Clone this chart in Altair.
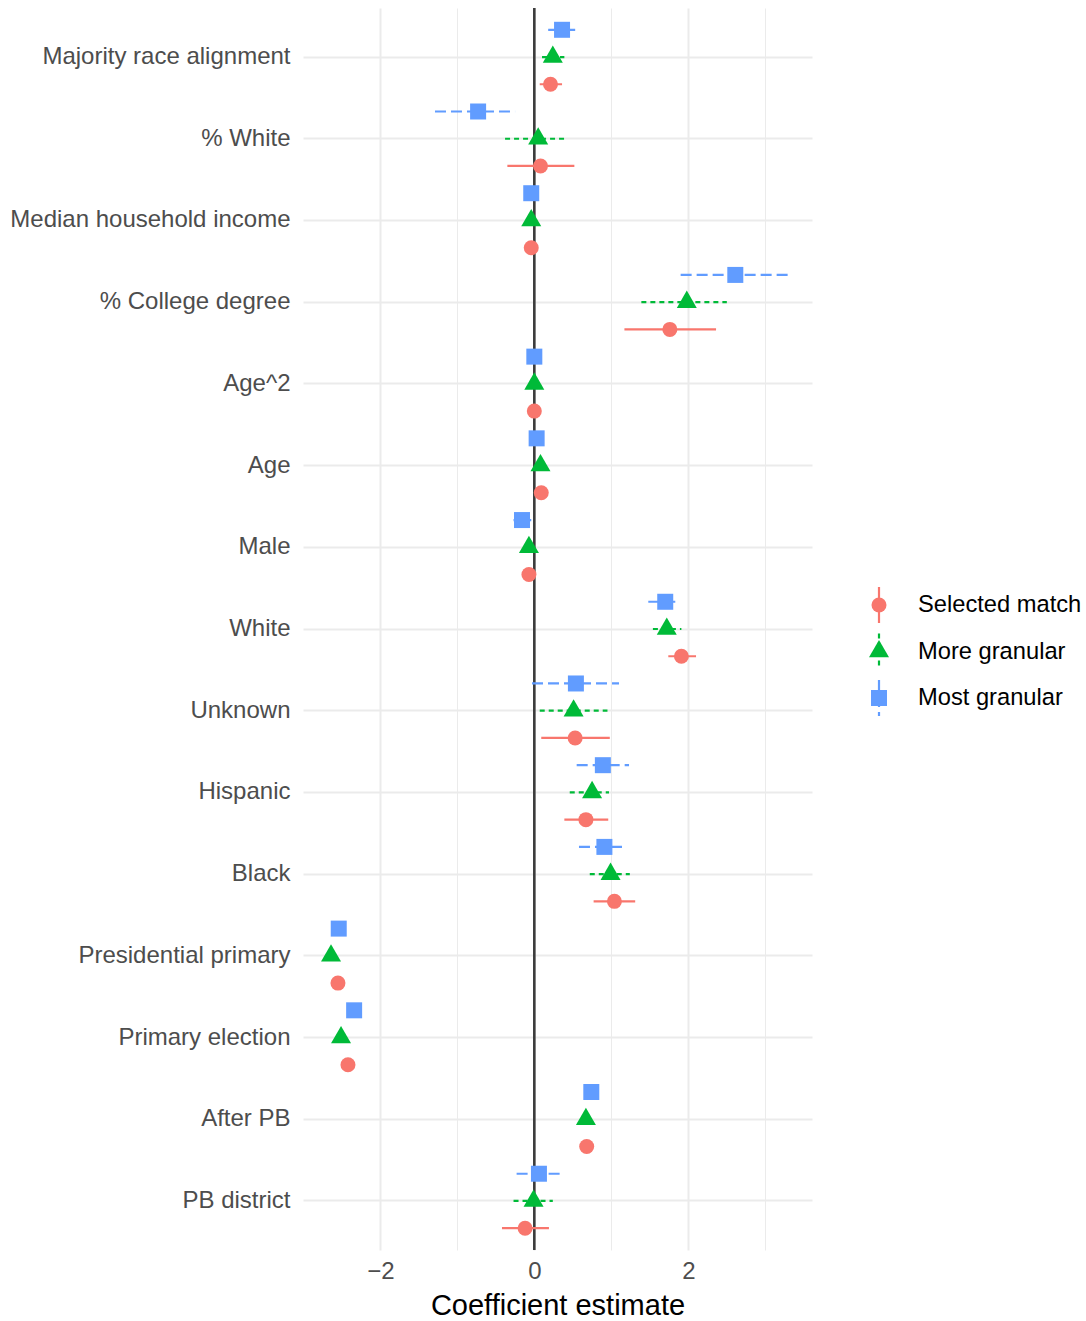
import altair as alt
import pandas as pd

# Regression terms, top to bottom
terms = [
    "Majority race alignment", "% White", "Median household income",
    "% College degree", "Age^2", "Age", "Male", "White", "Unknown",
    "Hispanic", "Black", "Presidential primary", "Primary election",
    "After PB", "PB district",
]

models = ["Selected match", "More granular", "Most granular"]

# Point estimates and interval bounds per model
est_selected = [0.21, 0.08, -0.04, 1.76, 0.00, 0.09, -0.07, 1.91, 0.53, 0.67, 1.04, -2.55, -2.42, 0.68, -0.12]
low_selected = [0.07, -0.35, -0.06, 1.17, -0.01, 0.06, -0.10, 1.74, 0.09, 0.39, 0.77, -2.60, -2.48, 0.64, -0.42]
high_selected = [0.36, 0.52, -0.02, 2.36, 0.01, 0.12, -0.04, 2.10, 0.98, 0.96, 1.31, -2.50, -2.36, 0.72, 0.19]

est_more = [0.24, 0.05, -0.04, 1.98, 0.00, 0.08, -0.07, 1.72, 0.51, 0.75, 0.99, -2.64, -2.51, 0.67, -0.01]
low_more = [0.10, -0.38, -0.07, 1.39, -0.01, 0.04, -0.11, 1.54, 0.07, 0.46, 0.72, -2.70, -2.58, 0.62, -0.27]
high_more = [0.39, 0.43, -0.01, 2.50, 0.01, 0.12, -0.03, 1.91, 0.95, 0.97, 1.24, -2.58, -2.44, 0.72, 0.24]

est_most = [0.36, -0.73, -0.04, 2.61, 0.00, 0.03, -0.16, 1.70, 0.54, 0.89, 0.91, -2.54, -2.34, 0.74, 0.06]
low_most = [0.18, -1.29, -0.08, 1.90, -0.01, -0.01, -0.27, 1.48, -0.03, 0.55, 0.58, -2.60, -2.41, 0.69, -0.23]
high_most = [0.54, -0.25, 0.00, 3.32, 0.01, 0.07, -0.04, 1.85, 1.10, 1.23, 1.17, -2.48, -2.27, 0.79, 0.36]

colors = ["#F8766D", "#00BA38", "#619CFF"]
dashes = [[1, 0], [5, 4], [11, 5]]
# triangle path centred on its centroid
tri = "M0,-1.155L1,0.577L-1,0.577Z"
shapes = ["circle", tri, "square"]
sizes = [225, 400, 256]

FONT = "Liberation Sans, Arial, sans-serif"

rows = []
for m, e, lo, hi in [
    ("Selected match", est_selected, low_selected, high_selected),
    ("More granular", est_more, low_more, high_more),
    ("Most granular", est_most, low_most, high_most),
]:
    for t, ev, lv, hv in zip(terms, e, lo, hi):
        rows.append({"term": t, "model": m, "est": ev, "low": lv, "high": hv})
df = pd.DataFrame(rows)

x_scale = alt.Scale(domain=[-3.004, 3.606], nice=False, zero=False)
y_enc = alt.Y(
    "term:N", sort=terms, title=None,
    scale=alt.Scale(type="band", paddingInner=0, paddingOuter=0.1),
    axis=alt.Axis(
        ticks=False, domain=False, grid=True, gridColor="#EBEBEB", gridWidth=2,
        labelFont=FONT, labelFontSize=24, labelColor="#4D4D4D", labelPadding=13,
        labelLimit=400,
    ),
)
yoff_enc = alt.YOffset(
    "model:N",
    scale=alt.Scale(domain=["Most granular", "More granular", "Selected match"],
                    paddingInner=0, paddingOuter=0),
)
color_enc = alt.Color("model:N", scale=alt.Scale(domain=models, range=colors), legend=None)
dash_enc = alt.StrokeDash("model:N", scale=alt.Scale(domain=models, range=dashes), legend=None)
shape_enc = alt.Shape("model:N", scale=alt.Scale(domain=models, range=shapes), legend=None)
size_enc = alt.Size("model:N", scale=alt.Scale(type="ordinal", domain=models, range=sizes), legend=None)

x_axis = alt.Axis(
    values=[-2, -1, 0, 1, 2, 3],
    labelExpr="datum.value % 2 === 0 ? datum.label : ''",
    ticks=False, domain=False, grid=True, gridColor="#EBEBEB",
    gridWidth={"condition": {"test": "datum.value % 2 === 0", "value": 2}, "value": 1},
    labelFont=FONT, labelFontSize=24, labelColor="#4D4D4D", labelPadding=9,
    title="Coefficient estimate", titleFont=FONT, titleFontSize=29,
    titleFontWeight="normal", titleColor="black", titlePadding=8,
)

base = alt.Chart(df)

zero_line = alt.Chart(pd.DataFrame({"x": [0]})).mark_rule(
    color="#3C3C3C", strokeWidth=2.6
).encode(x=alt.X("x:Q", scale=x_scale, axis=x_axis))

bars = base.mark_rule(strokeWidth=2.2).encode(
    x=alt.X("low:Q", scale=x_scale, axis=x_axis),
    x2="high:Q",
    y=y_enc,
    yOffset=yoff_enc,
    color=color_enc,
    strokeDash=dash_enc,
)

points = base.mark_point(filled=True, opacity=1, strokeWidth=0).encode(
    x=alt.X("est:Q", scale=x_scale, axis=x_axis),
    y=y_enc,
    yOffset=yoff_enc,
    color=color_enc,
    shape=shape_enc,
    size=size_enc,
)

main = alt.layer(zero_line, bars, points).properties(width=509, height=1242)

# Hand-built legend showing the point-range glyphs
leg_df = pd.DataFrame({"model": models})
leg_y = alt.Y("model:N", sort=models, axis=None,
              scale=alt.Scale(type="point", padding=0.5, range=[573.75, 713.25]))
leg_base = alt.Chart(leg_df)

leg_rules = leg_base.mark_rule(strokeWidth=2.2, yOffset=-18, y2Offset=18).encode(
    x=alt.value(67),
    y=leg_y,
    y2=alt.Y2("model:N"),
    color=color_enc,
    strokeDash=dash_enc,
)
leg_points = leg_base.mark_point(filled=True, opacity=1, strokeWidth=0).encode(
    x=alt.value(67),
    y=leg_y,
    color=color_enc,
    shape=shape_enc,
    size=size_enc,
)
leg_text = leg_base.mark_text(
    align="left", baseline="middle", font=FONT, fontSize=23.7, color="black"
).encode(x=alt.value(106), y=leg_y, text="model:N")

legend = alt.layer(leg_rules, leg_points, leg_text).properties(width=260, height=1242)

chart = alt.hconcat(main, legend, spacing=0).properties(
    padding={"left": 9, "top": 6, "right": 0, "bottom": 0}
).configure_view(strokeWidth=0)

chart.save("out.html", embed_options={"renderer": "svg", "actions": False})
